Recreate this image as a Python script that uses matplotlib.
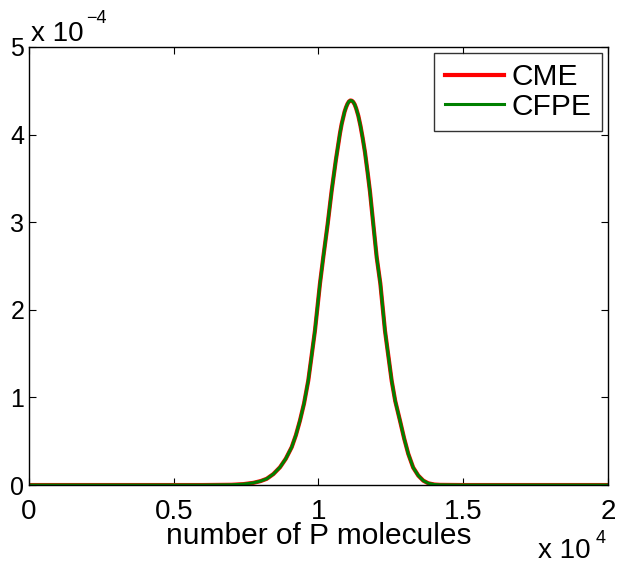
import numpy as np
import matplotlib
matplotlib.use("Agg")
import matplotlib.pyplot as plt
from matplotlib.ticker import FuncFormatter

plt.rcParams['font.family'] = ['Liberation Sans', 'DejaVu Sans']

# number of P molecules
n_molecules = [0, 6000, 7000, 7400, 7750, 8000, 8210, 8440, 8670, 8870, 9074,
               9220, 9360, 9500, 9647, 9760, 9878, 10051, 10165, 10317, 10455,
               10600, 10742, 10800, 10900, 10950, 11000, 11050, 11100, 11150,
               11200, 11250, 11300, 11375, 11450, 11525, 11605, 11700, 11778,
               11892, 12010, 12136, 12297, 12528, 12650, 12814, 12960, 13101,
               13270, 13447, 13620, 13792, 14000, 14196, 15000, 20000]
# probability, CME
p_cme = [0, 0, 0.003e-4, 0.010e-4, 0.025e-4, 0.045e-4, 0.071e-4, 0.125e-4,
         0.203e-4, 0.30e-4, 0.432e-4, 0.57e-4, 0.736e-4, 0.93e-4, 1.193e-4,
         1.47e-4, 1.764e-4, 2.30e-4, 2.60e-4, 2.98e-4, 3.36e-4, 3.71e-4,
         4.015e-4, 4.12e-4, 4.26e-4, 4.31e-4, 4.35e-4, 4.377e-4, 4.389e-4,
         4.387e-4, 4.372e-4, 4.344e-4, 4.30e-4, 4.215e-4, 4.10e-4, 3.963e-4,
         3.80e-4, 3.559e-4, 3.35e-4, 2.98e-4, 2.60e-4, 2.30e-4, 1.76e-4,
         1.19e-4, 0.96e-4, 0.736e-4, 0.53e-4, 0.356e-4, 0.20e-4, 0.108e-4,
         0.05e-4, 0.02e-4, 0.006e-4, 0.002e-4, 0, 0]
# probability, CFPE (lies on top of CME)
p_cfpe = list(p_cme)

x_ticks = [0, 5000, 10000, 15000, 20000]
y_ticks = [0, 1e-4, 2e-4, 3e-4, 4e-4, 5e-4]

fig = plt.figure(figsize=(6.17, 5.64), dpi=100)
ax = fig.add_axes([0.047, 0.140, 0.9384, 0.7767])

ax.plot(n_molecules, p_cme, color='#ff0000', lw=3.0, label='CME')
ax.plot(n_molecules, p_cfpe, color='#008000', lw=2.2, label='CFPE')

ax.set_xlim(0, 20000)
ax.set_ylim(0, 5e-4)
ax.set_xticks(x_ticks)
ax.set_yticks(y_ticks)
ax.xaxis.set_major_formatter(FuncFormatter(lambda v, p: f'{v / 1e4:g}'))
ax.yaxis.set_major_formatter(FuncFormatter(lambda v, p: f'{v / 1e-4:g}'))
ax.tick_params(direction='in', length=5, width=0.8, top=True, right=True)
ax.tick_params(axis='x', labelsize=20, pad=10)
ax.tick_params(axis='y', labelsize=18, pad=3.5)
for s in ax.spines.values():
    s.set_linewidth(1.0)

ax.set_xlabel('number of P molecules', fontsize=21.5, labelpad=-2)

# axis multipliers
fig.text(31 / 617, 1 - 40.7 / 564, 'x 10', fontsize=20, ha='left', va='baseline')
fig.text(86 / 617, 1 - 22.7 / 564, '\u22124', fontsize=13, ha='left', va='baseline')
fig.text(538 / 617, 1 - 558 / 564, 'x 10', fontsize=20, ha='left', va='baseline')
fig.text(596 / 617, 1 - 543 / 564, '4', fontsize=13, ha='left', va='baseline')

leg = ax.legend(loc='upper right', fontsize=21.5, frameon=True, fancybox=False,
                borderaxespad=0.2, handlelength=2.0, handletextpad=0.25,
                borderpad=0.35, labelspacing=0.05)
leg.get_frame().set_edgecolor('black')
leg.get_frame().set_linewidth(1.0)

plt.savefig('out.png', dpi=100)
